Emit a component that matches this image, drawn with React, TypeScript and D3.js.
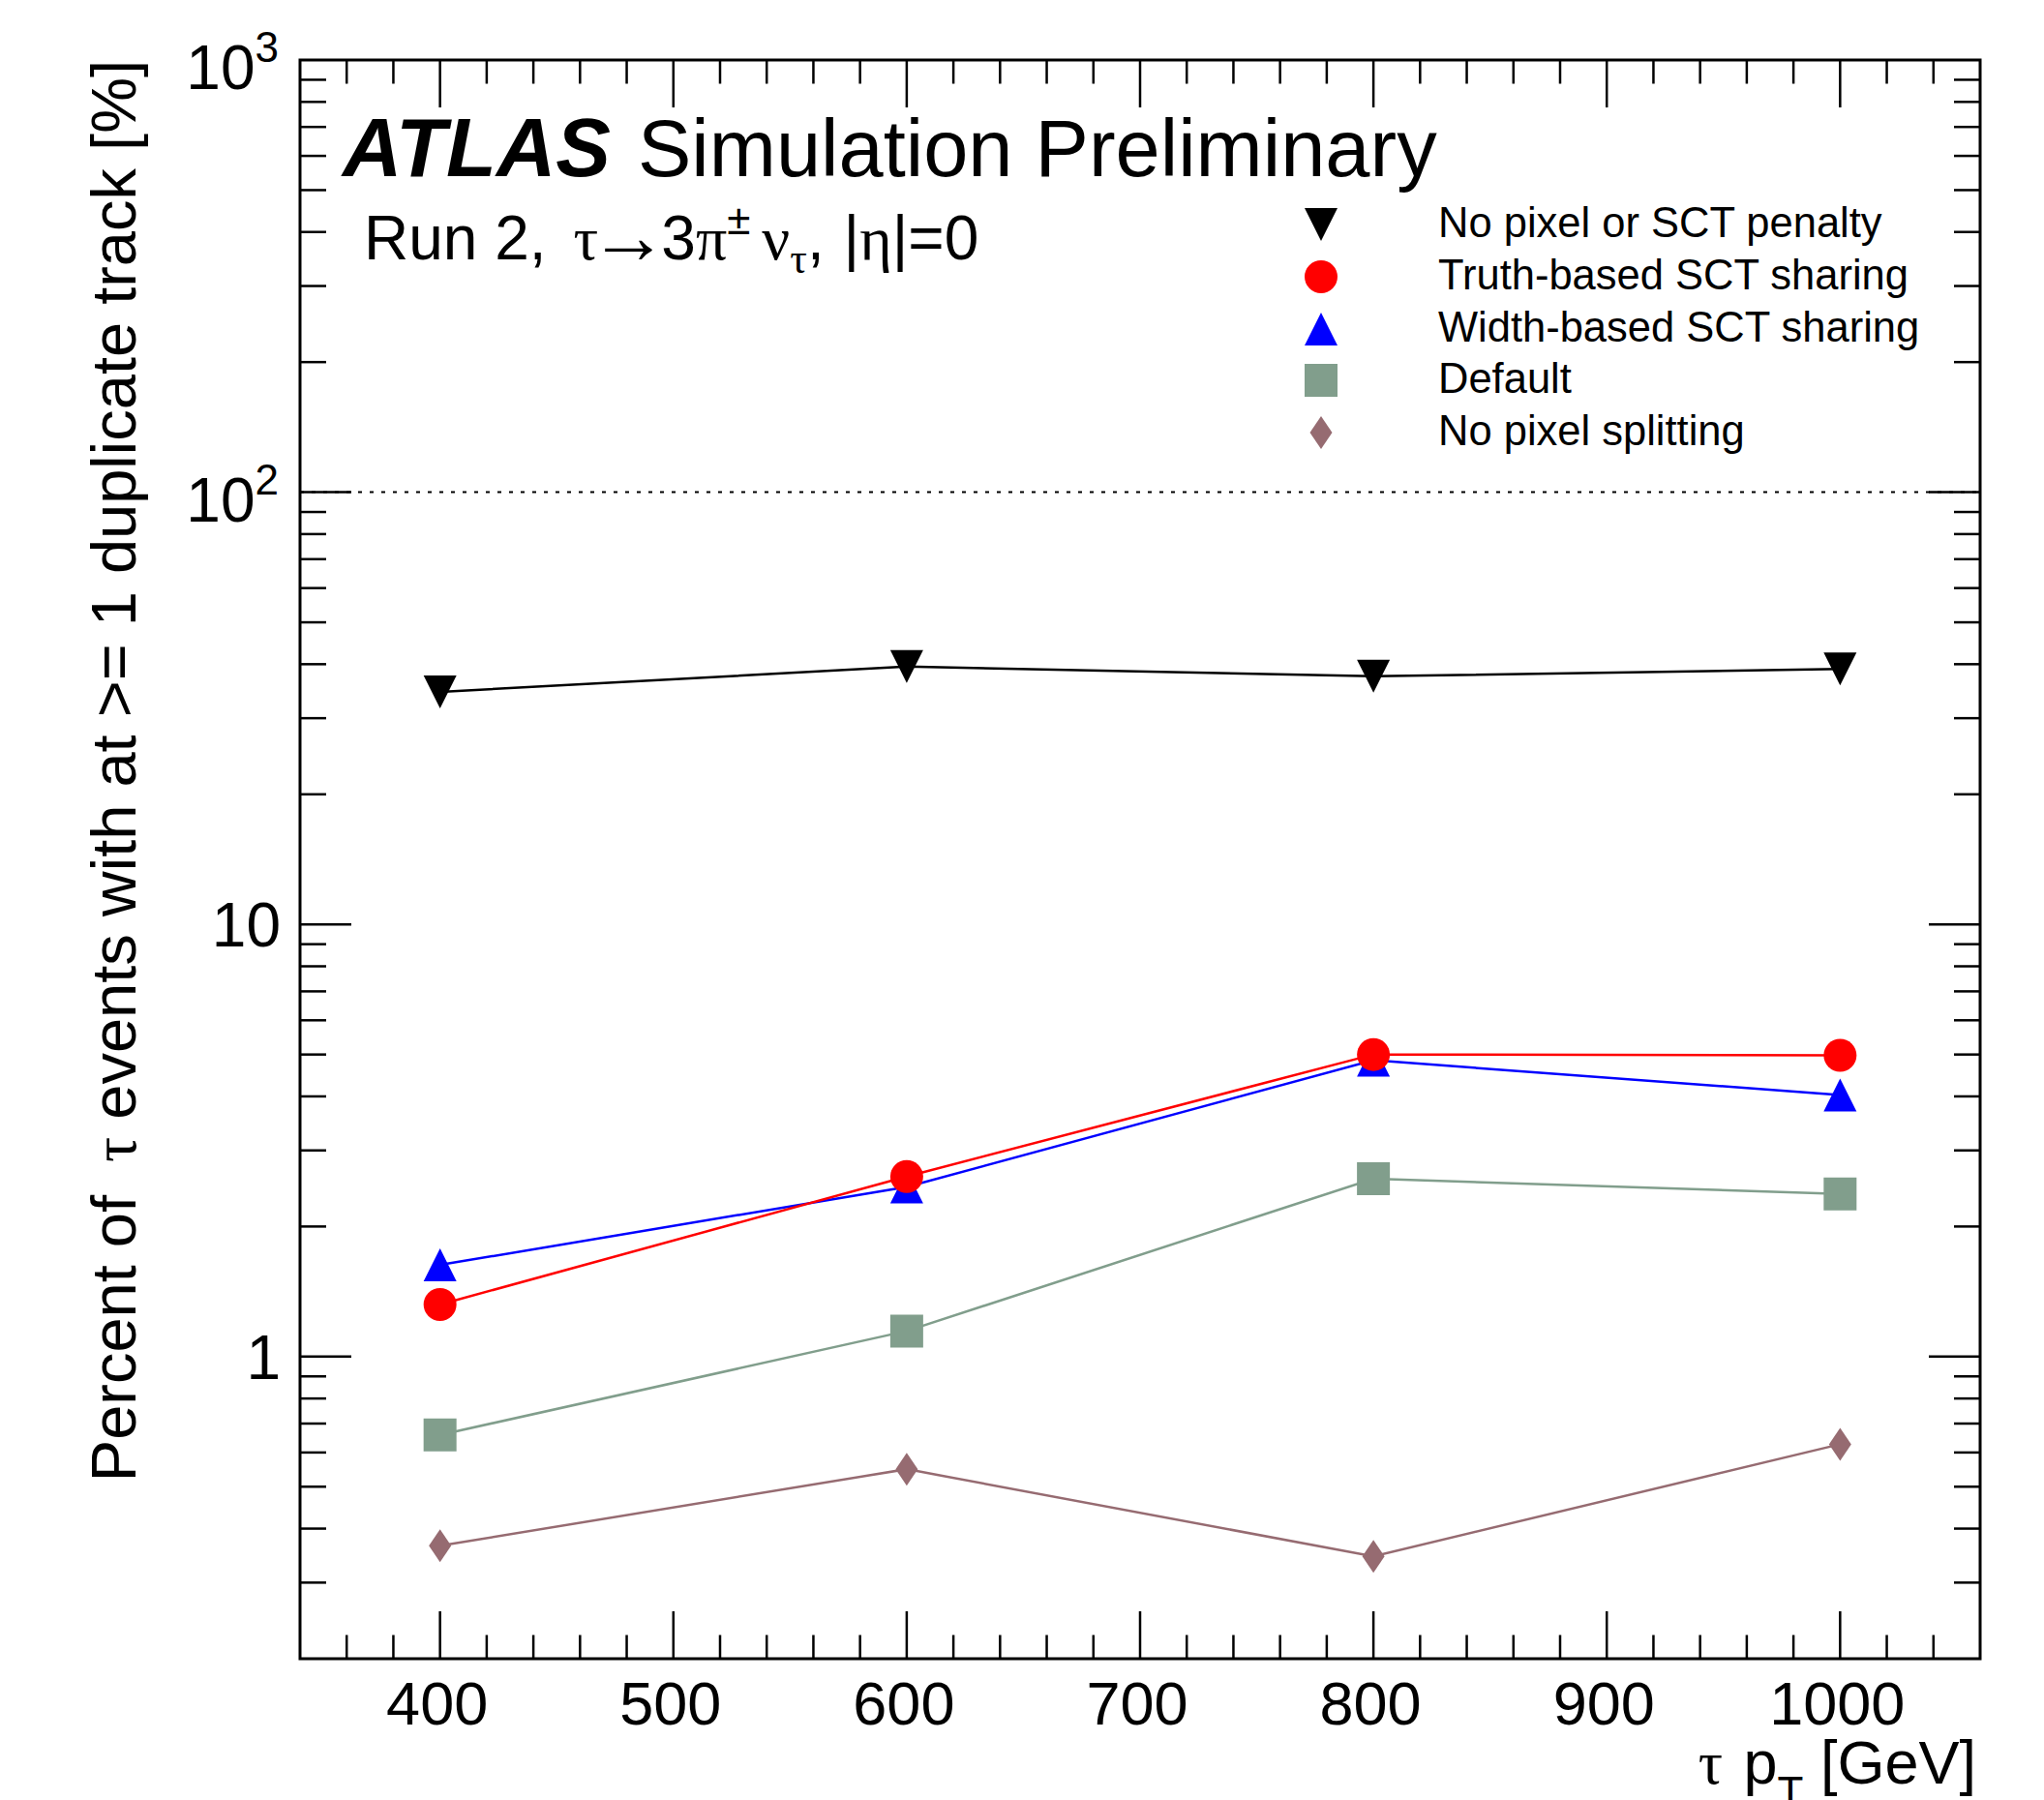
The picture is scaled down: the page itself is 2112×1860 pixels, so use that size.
import React from 'react';
import * as d3 from 'd3';

const W = 2112;
const H = 1860;

// ---- data ----
const ptValues = [400, 600, 800, 1000];
const noPenalty = [34.5, 39.5, 37.5, 39.0];
const truthSCT = [1.32, 2.61, 5.0, 4.98];
const widthSCT = [1.63, 2.47, 4.85, 4.03];
const defaultVals = [0.659, 1.146, 2.58, 2.38];
const noPixelSplit = [0.365, 0.549, 0.345, 0.627];

const legendNames = [
  'No pixel or SCT penalty',
  'Truth-based SCT sharing',
  'Width-based SCT sharing',
  'Default',
  'No pixel splitting',
];
const xTickLabels = [400, 500, 600, 700, 800, 900, 1000];
const yTickValues = [1000, 100, 10, 1];
const yTickBases = ['10', '10', '10', '1'];
const yTickExps = ['3', '2', '', ''];

const SANS = "'Liberation Sans', Arial, Helvetica, sans-serif";
const SERIF = "'Liberation Serif', 'DejaVu Serif', serif";

const L = 310, R = 2046, T = 62, B = 1714;

const x = d3.scaleLinear().domain([340, 1060]).range([L, R]);
const y = d3.scaleLog().domain([0.2, 1000]).range([B, T]);

type Shape = 'tdown' | 'circle' | 'tup' | 'square' | 'diamond';

function markerPath(shape: Shape, cx: number, cy: number): string {
  const r = 17;
  switch (shape) {
    case 'tdown':
      return `M${cx - r},${cy - r}L${cx + r},${cy - r}L${cx},${cy + r}Z`;
    case 'tup':
      return `M${cx},${cy - r}L${cx + r},${cy + r}L${cx - r},${cy + r}Z`;
    case 'square':
      return `M${cx - r},${cy - r}h${2 * r}v${2 * r}h${-2 * r}Z`;
    case 'diamond':
      return `M${cx},${cy - r}L${cx + 11.5},${cy}L${cx},${cy + r}L${cx - 11.5},${cy}Z`;
    case 'circle':
    default:
      return `M${cx - r},${cy}a${r},${r} 0 1,0 ${2 * r},0a${r},${r} 0 1,0 ${-2 * r},0Z`;
  }
}

const series: { name: string; values: number[]; color: string; shape: Shape }[] = [
  { name: legendNames[0], values: noPenalty, color: '#000000', shape: 'tdown' },
  { name: legendNames[2], values: widthSCT, color: '#0000ff', shape: 'tup' },
  { name: legendNames[1], values: truthSCT, color: '#ff0000', shape: 'circle' },
  { name: legendNames[3], values: defaultVals, color: '#819e8c', shape: 'square' },
  { name: legendNames[4], values: noPixelSplit, color: '#966b71', shape: 'diamond' },
];

const legendOrder: { name: string; color: string; shape: Shape }[] = [
  { name: legendNames[0], color: '#000000', shape: 'tdown' },
  { name: legendNames[1], color: '#ff0000', shape: 'circle' },
  { name: legendNames[2], color: '#0000ff', shape: 'tup' },
  { name: legendNames[3], color: '#819e8c', shape: 'square' },
  { name: legendNames[4], color: '#966b71', shape: 'diamond' },
];

export default function App() {
  const line = d3
    .line<number>()
    .x((_, i) => x(ptValues[i]))
    .y((d) => y(d));

  const xTicks = d3.range(360, 1060, 20);
  const yTicks: { v: number; major: boolean }[] = [];
  for (let e = -1; e <= 2; e++) {
    for (let m = 1; m <= 9; m++) {
      const v = m * Math.pow(10, e);
      if (v > 0.2 && v < 1000) yTicks.push({ v, major: m === 1 });
    }
  }

  const legendX = 1365;
  const legendTextX = 1486;
  const legendY = [232, 286, 340, 393, 447];

  return (
    <svg
      width={W}
      height={H}
      viewBox={`0 0 ${W} ${H}`}
      style={{ position: 'absolute', left: 0, top: 0, background: '#fff' }}
    >
      <rect x={0} y={0} width={W} height={H} fill="#fff" />

      <line
        x1={L}
        x2={R}
        y1={y(100)}
        y2={y(100)}
        stroke="#000"
        strokeWidth={2}
        strokeDasharray="4,8"
      />

      <g stroke="#000" strokeWidth={2.5}>
        {xTicks.map((t) => {
          const len = t % 100 === 0 ? 49 : 24.5;
          return (
            <g key={'xt' + t}>
              <line x1={x(t)} x2={x(t)} y1={B} y2={B - len} />
              <line x1={x(t)} x2={x(t)} y1={T} y2={T + len} />
            </g>
          );
        })}
        {yTicks.map((t) => {
          const len = t.major ? 53 : 27;
          return (
            <g key={'yt' + t.v}>
              <line x1={L} x2={L + len} y1={y(t.v)} y2={y(t.v)} />
              <line x1={R} x2={R - len} y1={y(t.v)} y2={y(t.v)} />
            </g>
          );
        })}
      </g>

      <rect x={L} y={T} width={R - L} height={B - T} fill="none" stroke="#000" strokeWidth={3} />

      {series.map((s) => (
        <g key={s.name}>
          <path d={line(s.values) || ''} fill="none" stroke={s.color} strokeWidth={2.5} />
          {s.values.map((v, i) => (
            <path key={i} d={markerPath(s.shape, x(ptValues[i]), y(v))} fill={s.color} />
          ))}
        </g>
      ))}

      <g fontFamily={SANS} fontSize={63} textAnchor="middle" fill="#000">
        {xTickLabels.map((t) => (
          <text key={'xl' + t} x={x(t) - 3} y={1782}>
            {t}
          </text>
        ))}
      </g>

      <g fontFamily={SANS} fill="#000" textAnchor="end">
        {yTickValues.map((v, i) =>
          yTickExps[i] ? (
            <text key={'yl' + v} x={288} y={y(v) + 30} fontSize={64}>
              <tspan>{yTickBases[i]}</tspan>
              <tspan fontSize={44} dy={-28}>
                {yTickExps[i]}
              </tspan>
            </text>
          ) : (
            <text key={'yl' + v} x={290} y={y(v) + 23} fontSize={64}>
              {yTickBases[i]}
            </text>
          )
        )}
      </g>

      {/* x axis title */}
      <text x={2042} y={1843} fontFamily={SANS} fontSize={63} textAnchor="end" fill="#000">
        <tspan fontFamily={SERIF}>τ</tspan>
        <tspan dx={4}> p</tspan>
        <tspan fontSize={44} dy={24}>T</tspan>
        <tspan dy={-24}> [GeV]</tspan>
      </text>

      {/* y axis title */}
      <text
        transform={`translate(140, ${T}) rotate(-90)`}
        fontFamily={SANS}
        fontSize={65}
        textAnchor="end"
        fill="#000"
      >
        <tspan>Percent of</tspan>
        <tspan fontFamily={SERIF} dx={34}>τ</tspan>
        <tspan> events with at &gt;= 1 duplicate track [%]</tspan>
      </text>

      {/* ATLAS label */}
      <text x={354} y={182} fontFamily={SANS} fill="#000">
        <tspan fontSize={85} fontWeight="bold" fontStyle="italic">ATLAS</tspan>
        <tspan fontSize={83} dx={28}>Simulation Preliminary</tspan>
      </text>

      <text x={376} y={268} fontFamily={SANS} fontSize={64} fill="#000">
        <tspan>Run 2,</tspan>
        <tspan fontFamily={SERIF} dx={28}>τ</tspan>
        <tspan fontFamily={SERIF} fontSize={82} dy={4} dx={-10}>→</tspan>
        <tspan dy={-4} dx={-7}>3</tspan>
        <tspan fontFamily={SERIF}>π</tspan>
        <tspan fontSize={44} dy={-26}>±</tspan>
        <tspan fontFamily={SERIF} dy={26} dx={12}>ν</tspan>
        <tspan fontFamily={SERIF} fontSize={44} dy={14}>τ</tspan>
        <tspan dy={-14}>, </tspan>
        <tspan dx={2}>|</tspan>
        <tspan fontFamily={SERIF}>η</tspan>
        <tspan>|=0</tspan>
      </text>

      {legendOrder.map((s, i) => (
        <g key={'lg' + i}>
          <path d={markerPath(s.shape, legendX, legendY[i])} fill={s.color} />
          <text x={legendTextX} y={legendY[i] + 13} fontFamily={SANS} fontSize={43.5} fill="#000">
            {s.name}
          </text>
        </g>
      ))}
    </svg>
  );
}
